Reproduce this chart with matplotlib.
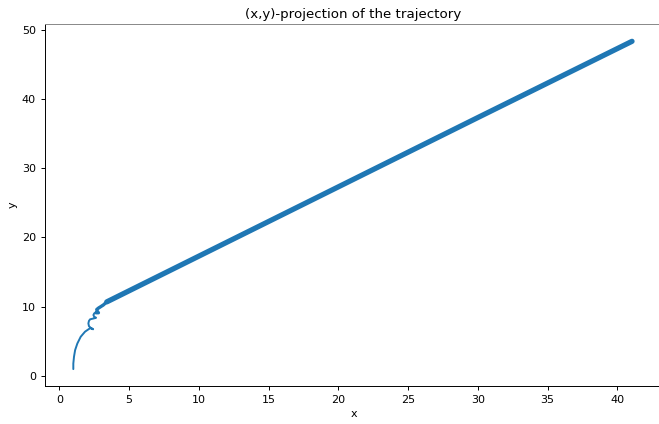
import matplotlib
matplotlib.use("Agg")
import matplotlib.pyplot as plt

# initial thin part of the trajectory (start curve with small loops)
x_thin = [1.0, 1.0, 1.05, 1.13, 1.29, 1.53, 1.84, 2.2, 2.36, 2.42, 2.3, 2.12, 2.08, 2.12, 2.2,
          2.44, 2.6, 2.63, 2.5, 2.44, 2.5, 2.62, 2.8, 2.72, 2.68, 2.8, 2.92, 3.15, 3.4]
y_thin = [1.0, 1.8, 2.8, 3.75, 4.7, 5.67, 6.4, 6.9, 6.85, 6.74, 6.85, 7.2, 7.6, 7.95, 8.18,
          8.3, 8.38, 8.41, 8.55, 8.8, 9.05, 9.13, 9.13, 9.3, 9.6, 9.8, 9.95, 10.25, 10.7]

# dense (thick) straight part of the trajectory
x_thick = [3.4, 10.0, 20.0, 30.0, 41.05]
y_thick = [10.7, 17.3, 27.3, 37.3, 48.3]

fig = plt.figure(figsize=(6.59, 4.24), dpi=100)
ax = fig.add_axes([45 / 659, 38 / 424, (662 - 45) / 659, (386 - 24) / 424])

color = "#1f77b4"
ax.plot(x_thin, y_thin, color=color, lw=1.4, solid_capstyle="round")
ax.plot(x_thin[-8:], y_thin[-8:], color=color, lw=2.4, solid_capstyle="round")
ax.plot(x_thick, y_thick, color=color, lw=3.8, solid_capstyle="round")

ax.set_xlim(-1.03, 43.2)
ax.set_ylim(-1.44, 50.8)
ax.set_xticks([0, 5, 10, 15, 20, 25, 30, 35, 40])
ax.set_yticks([0, 10, 20, 30, 40, 50])
ax.tick_params(labelsize=8, length=3, width=0.7)
for s in ax.spines.values():
    s.set_linewidth(0.7)
ax.spines["top"].set_color("#888888")
ax.set_xlabel("x", fontsize=8, labelpad=3)
ax.set_ylabel("y", fontsize=8, labelpad=3)
ax.set_title("(x,y)-projection of the trajectory", fontsize=9.6, pad=4)

fig.savefig("out.png", dpi=100)
